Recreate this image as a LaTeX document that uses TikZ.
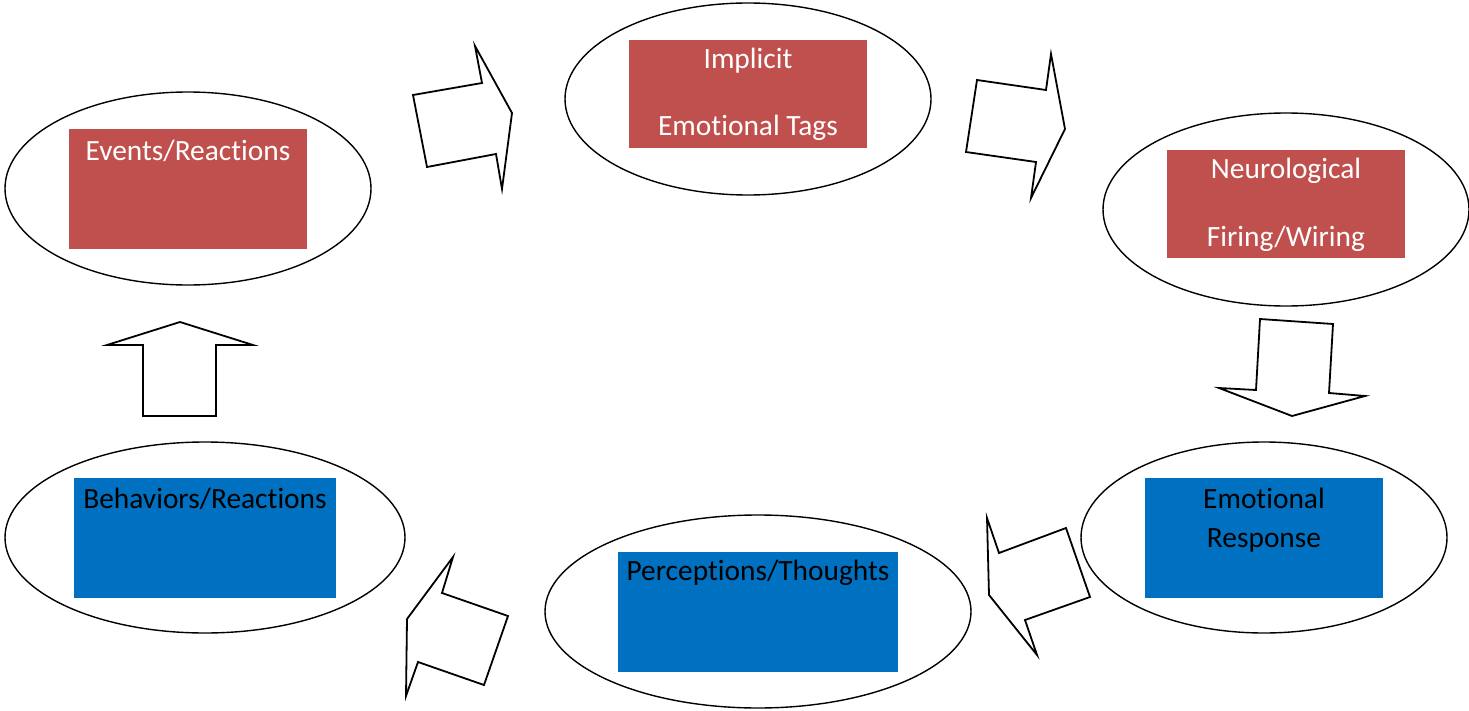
\documentclass[tikz,border=0pt]{standalone}
\usepackage{fontspec}
\setmainfont{Carlito}[Ligatures=NoCommon]
\usetikzlibrary{shapes.geometric}
\definecolor{boxred}{HTML}{C0504D}
\definecolor{boxblue}{HTML}{0070C0}
\begin{document}
\begin{tikzpicture}[x=1bp,y=-1bp,
  oval/.style={ellipse,draw=black,line width=1.4bp,inner sep=0pt},
  wtxt/.style={text=white,font=\fontsize{29.5}{34}\selectfont,inner sep=0pt},
  btxt/.style={text=black,font=\fontsize{29.5}{34}\selectfont,inner sep=0pt},
  blockarrow/.style={draw=black,fill=white,line width=1.8bp,line join=miter}]
\useasboundingbox (0,0) rectangle (1469,711);
% ellipses
\node[oval,minimum width=366bp,minimum height=193bp] (e1) at (188,188.5) {};
\node[oval,minimum width=366bp,minimum height=192bp] (e2) at (748,99) {};
\node[oval,minimum width=366bp,minimum height=193bp] (e3) at (1286,209.5) {};
\node[oval,minimum width=366bp,minimum height=191bp] (e4) at (1264,537.5) {};
\node[oval,minimum width=426bp,minimum height=193bp] (e5) at (758,611.5) {};
\node[oval,minimum width=400bp,minimum height=191bp] (e6) at (205,537.5) {};
% boxes
\fill[boxred] (69,129) rectangle (307,249);
\fill[boxred] (629,40) rectangle (867,148);
\fill[boxred] (1167,150) rectangle (1405,258);
\fill[boxblue] (1145,478) rectangle (1383,598);
\fill[boxblue] (618,552) rectangle (898,672);
\fill[boxblue] (74,478) rectangle (336,598);
% texts
\node[wtxt] (t1) at (188,151) {Events/Reactions};
\node[wtxt] (t2a) at (748,61) {Implicit};
\node[wtxt] (t2b) at (748,128) {Emotional Tags};
\node[wtxt] (t3a) at (1286,171) {Neurological};
\node[wtxt] (t3b) at (1286,239) {Firing/Wiring};
\node[btxt] (t4a) at (1264,498) {Emotional};
\node[btxt] (t4b) at (1264,540) {Response};
\node[btxt] (t5) at (758,573) {Perceptions/Thoughts};
\node[btxt] (t6) at (205,499) {Behaviors/Reactions};
% block arrows
\draw[blockarrow] (413,95) -- (482,83) -- (475,46) -- (512,113) -- (502,189) -- (496,154) -- (427,167) -- cycle;
\draw[blockarrow] (977,80) -- (1046,90) -- (1051,54) -- (1065,129) -- (1031,198) -- (1036,162) -- (966,152) -- cycle;
\draw[blockarrow] (1260,319) -- (1333,324) -- (1329,393) -- (1365,396) -- (1292,416) -- (1219,388) -- (1256,390) -- cycle;
\draw[blockarrow] (1066,528) -- (1090,597) -- (1025,620) -- (1037,655) -- (989,595) -- (987,518) -- (999,553) -- cycle;
\draw[blockarrow] (508,616) -- (484,685) -- (418,662) -- (406,696) -- (407,619) -- (453,557) -- (442,593) -- cycle;
\draw[blockarrow] (143,416) -- (143,345) -- (107,345) -- (180,322) -- (253,345) -- (216,345) -- (216,416) -- cycle;
\end{tikzpicture}
\end{document}
